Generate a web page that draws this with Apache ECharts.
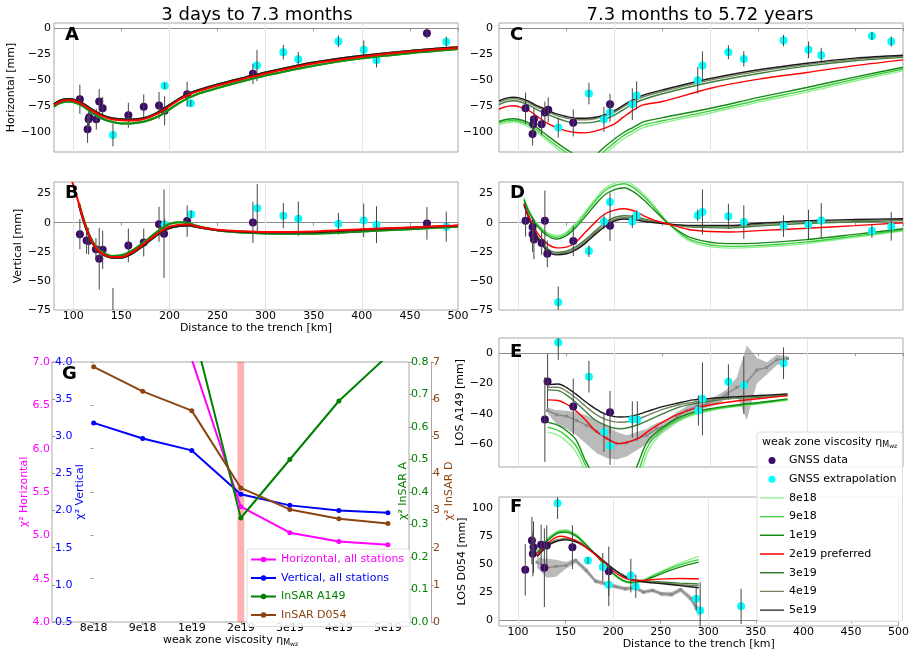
<!DOCTYPE html>
<html><head><meta charset="utf-8">
<script src="https://cdn.jsdelivr.net/npm/echarts@6/dist/echarts.min.js"></script>
<style>html,body{margin:0;padding:0;background:#fff}#c{width:912px;height:653px}</style>
</head><body><div id="c"></div>
<script>
// ---------------- DATA ----------------
const distTicks = [100,150,200,250,300,350,400,450,500];
const distGrid = [100,200,300,400];
const A_yTicks = [-100,-75,-50,-25,0];
const B_yTicks = [-75,-50,-25,0,25];
const E_yTicks = [-60,-40,-20,0];
const F_yTicks = [0,25,50,75,100];

// stations: [distance km, value mm, error mm]
const A_gnss = [[106.9,-68.3,14],[114.9,-97.1,13],[116.0,-87.5,8],[116.7,-85.6,8],[124.0,-87.5,10],[127.0,-70.5,12],[130.6,-77.0,11],[157.3,-83.7,12],[173.3,-75.6,12],[189.2,-74.4,13],[195.0,-79.4,14],[218.4,-63.5,12],[286.8,-43.9,10],[467.7,-4.8,5]];
const A_extra = [[141.3,-102.6,11],[195.1,-55.4,3],[222.2,-72.1,3],[291.0,-35.9,15],[318.4,-23.1,7],[334.0,-29.8,7],[375.7,-12.5,5.5],[402.0,-20.8,9],[415.3,-30.8,7],[487.8,-13.1,5]];
const B_gnss = [[106.9,-9.8,13],[113.9,-15.2,11.5],[116.0,-15.8,11.5],[123.6,-22.7,9.5],[127.0,-31.0,26.5],[130.6,-23.3,16.5],[157.3,-19.5,14.5],[173.3,-17.0,12],[189.2,-1.4,15],[194.4,-9.5,38],[218.4,1.4,13.5],[286.8,0.3,17.7],[467.7,-0.6,14]];
const B_extra = [[141.3,-80,24],[195.1,-1.7,5],[222.6,7.2,3.5],[291.3,12.4,21],[318.4,6.0,10.8],[334.0,3.4,14.8],[375.7,-0.9,9.3],[402.0,2.0,14.4],[415.3,-1.7,15.8],[487.8,-3.4,12.9]];
const C_gnss = [[107.6,-76.9,15],[116.3,-87.5,11],[115.6,-92.3,8],[114.9,-101.6,11],[124.3,-92.3,10.5],[127.7,-81.1,10.5],[131.2,-78.5,12],[157.2,-91.0,13],[195.4,-73.1,10]];
const C_extra = [[141.6,-95.5,9.6],[173.5,-62.8,10.4],[189.1,-87.5,12],[195.4,-81.1,8.8],[218.6,-73.1,15.2],[223.1,-64.7,13.6],[286.6,-50.0,12.8],[291.5,-35.9,13.6],[318.5,-23.1,6.7],[334.5,-29.5,7.4],[375.8,-11.9,5.6],[401.8,-20.8,8],[415.0,-26.0,7.2],[467.7,-7.4,4],[487.8,-12.8,4.8]];
const D_gnss = [[107.6,1.7,13.5],[114.9,-3.7,7],[114.9,-10.0,15],[116.3,-14.4,17],[124.3,-17.5,10],[127.7,1.7,26],[130.2,-26.7,11.5],[157.2,-15.8,13],[195.4,-2.6,13]];
const D_extra = [[141.6,-68.4,13.6],[173.5,-24.4,5],[189.1,1.1,6.5],[195.4,17.8,8],[218.6,1.1,5.7],[223.1,6.3,4.3],[286.6,6.3,5],[291.5,9.2,19.4],[318.5,5.5,10.8],[334.5,0.6,14.4],[375.8,-2.9,9.3],[401.8,-1.7,12.9],[415.0,2.0,15],[467.7,-7.2,5.7],[487.8,-3.2,12.2]];
const E_gnss = [[127.7,-43.7,28],[130.5,-18.6,18],[157.2,-35.2,18.5],[195.4,-38.9,14]];
const E_extra = [[141.6,7.0,11.5],[173.5,-15.5,10.4],[189.1,-52.0,13],[195.4,-61.1,12.5],[218.6,-43.7,12],[223.8,-43.7,12],[287.3,-37.8,10],[291.5,-30.1,24],[318.5,-18.8,11.5],[334.5,-21.0,19],[375.8,-6.6,10.4]];
const F_gnss = [[107.6,45.1,23],[114.6,71.2,21],[115.6,59.3,20],[116.3,65.3,23],[124.3,67.4,18],[127.7,46.9,35],[130.2,66.8,18],[157.2,65.3,19.5],[195.4,43.9,22]];
const F_extra = [[141.6,104.5,14],[173.5,53.4,3],[189.1,47.5,12.6],[195.4,31.8,19],[218.6,40.0,15],[223.8,30.3,10.4],[287.3,19.3,10.4],[291.5,8.9,25],[334.5,12.5,15.6]];

// model curves
const AX = [80,85,90,95,100,110,120,130,140,150,160,170,180,190,200,210,220,230,250,280,300,350,400,450,500];
const A_hi  = [-73,-70,-68.5,-68,-68.5,-72.5,-78.5,-83.5,-86.5,-87.5,-87.8,-87,-84.5,-80,-74,-68,-63,-59.5,-54,-47,-42.5,-33,-26.5,-21.8,-18.3];
const A_red = [-74,-71,-69.5,-69,-69.5,-73.5,-79.5,-84.5,-87.5,-88.5,-88.8,-88,-85.5,-81,-75,-69,-64,-60.5,-55,-48,-43.5,-34,-27.5,-22.5,-19];
const A_lo  = [-75.5,-72.5,-71,-70.5,-71,-75,-81.5,-87,-90,-91.5,-91.5,-90.5,-88,-84,-78,-72,-67,-63,-57.5,-50,-45.5,-36,-29,-24,-20];

const BXr = [99,102,106,110,115,120,125,130,140,150,160,170,180,190,200,210,220,230,250,275,300,350,400,450,500];
const B_red = [35,27,16,4,-8,-17,-23,-26.5,-29.5,-29.5,-26,-20.5,-14,-8,-3.5,-1.8,-1.5,-3.5,-6,-7.3,-8,-7.5,-5.7,-4,-2.3];
const BX = [106,110,115,120,125,130,140,150,160,170,180,190,200,210,220,230,250,275,300,350,400,450,500];
const B_hi = [15.5,3.5,-8.5,-17.5,-23.5,-27,-30,-30,-27,-21.5,-15,-9,-4.5,-2.8,-2.3,-4,-6.5,-7.8,-8.5,-8,-6,-4.3,-2.6];
const B_lo = [17,5,-7,-16,-22,-25.5,-28.5,-28,-24.5,-19,-12.5,-6,-1,0.5,-0.5,-3,-6.5,-8.5,-9.3,-9.5,-7.5,-5.5,-3.5];

const CX = [80,85,90,95,100,110,120,130,140,150,160,170,180,190,200,210,220,230,250,300,350,400,450,500];
const C_5e19 = [-69.9,-68,-66.7,-66.3,-66.7,-69.9,-74.7,-78.5,-82.4,-84.9,-86.5,-86.5,-85.6,-83,-79.2,-73.7,-68.3,-64.4,-59.3,-48.4,-40,-33.7,-28.8,-26];
const C_4e19 = [-71.4,-69.5,-68.2,-67.8,-68.2,-71.4,-76.2,-80,-84,-86.5,-88,-88,-87,-84.5,-80.7,-75.2,-69.8,-65.9,-60.8,-49.9,-41.5,-35,-30,-27];
const C_3e19 = [-73.5,-71.5,-70.2,-69.8,-70.2,-73.5,-78.5,-82.5,-86.5,-89.5,-91,-91,-90,-87.5,-83.5,-78,-72.5,-68.5,-63,-52,-43.5,-36.5,-31.3,-28];
const C_2e19 = [-77.9,-76,-74.9,-74.6,-75.3,-78.5,-85,-91.3,-95.5,-98.7,-100.3,-100.6,-99,-96,-92,-85,-78.5,-73.7,-70.5,-57.7,-49,-42.6,-36,-30.4];
const C_1e19 = [-89.7,-88.2,-87.3,-87,-87.5,-90.5,-96,-103,-110,-116.5,-122,-126,-122,-114,-106.5,-100,-95,-90,-86,-77,-66.5,-57,-47,-37.5];
const C_9e18 = [-91.3,-89.8,-89,-88.7,-89.2,-92.5,-98.5,-106,-113,-119.5,-125,-129,-126,-118,-110,-103,-98,-93,-89,-79.5,-69,-59.5,-49,-39.2];
const C_8e18 = [-93,-91.5,-90.6,-90.3,-90.8,-94.5,-100.5,-108,-115.5,-122,-127,-131,-129,-121,-113,-106,-100.5,-95.5,-91,-81.5,-71,-61.5,-50.8,-41];

const DX = [106,110,115,120,130,140,150,160,170,180,190,200,210,220,230,240,257,280,320,350,400,450,500];
const D_5e19 = [15,6,-4,-13,-24,-27.6,-26.7,-23.3,-17.5,-10,-3.5,1.5,3.2,2.7,1.3,0.2,-1.2,-2.3,-2.3,-0.5,1.8,2.8,3.4];
const D_4e19 = [16,7,-3.5,-12.5,-23,-26.5,-25.5,-22,-16,-8.5,-2,2.8,4.5,4,2.5,1,-1.2,-3,-3.3,-1.5,0.8,1.8,2.6];
const D_3e19 = [17,8,-2.5,-11.5,-22,-25.5,-24.5,-20.5,-14.5,-7,0,4.5,6,5.5,3.5,1.5,-1.2,-3.8,-4.5,-2.8,-0.5,0.8,1.8];
const D_2e19 = [16.4,7,-1,-9,-18,-21.6,-21,-16.5,-8,0.5,7.5,10.8,12,10.3,6.2,2.5,-1.3,-6.3,-8,-6.8,-4.8,-2.5,0];
const D_1e19 = [19.5,11,3,-3,-11,-14,-11,-4,5.5,15.5,24,28.5,30,26.5,20,12,-1.3,-13,-18,-17.5,-14.5,-10,-5.2];
const D_9e18 = [20.5,12,4,-2,-9.5,-12.5,-9.5,-2,8,18.5,27.5,32,33.5,30,23,14.5,-1.3,-15,-20.3,-19.7,-16.5,-11.5,-6.2];
const D_8e18 = [21.5,13,5,-1,-8.5,-11,-8,0,10,20.5,29.5,34,36,32,25,16,-1.3,-16.5,-21.8,-21,-17.8,-12.5,-7.2];

const EX = [130.5,141.6,150,160,170,180,190,200,206,215,225,235,250,265,282,300,317,350,380];
const E_5e19 = [-20.7,-20.3,-22.5,-27,-32,-36.5,-40,-41.8,-42.1,-41.8,-40.3,-38.2,-35.2,-33,-30.8,-29.8,-29,-27.9,-26.9];
const E_4e19 = [-22.5,-22.5,-25,-29.5,-35,-40,-43.5,-45.3,-45.5,-45,-43.3,-40.8,-37,-34.3,-32.3,-30.8,-30,-28.5,-27.5];
const E_3e19 = [-24.2,-24.7,-27.5,-32.5,-38.5,-44,-47.3,-49.5,-49.8,-49,-47,-44.3,-40,-36,-33.4,-31.5,-30.1,-29,-28];
const E_2e19 = [-30.8,-31.2,-33.5,-38,-44,-51,-55.5,-59,-59.6,-58.3,-56,-51.5,-45.5,-40.5,-36.7,-34,-32.3,-30,-28];
const E_1e19 = [-45.4,-47.6,-51,-57,-71,-82,-90,-95,-95,-88,-72,-57.5,-49,-43,-38.9,-36.5,-34.9,-32.5,-30.1];
const E_9e18 = [-48.7,-50.9,-54.5,-61,-74,-86,-95,-100,-100,-94,-78,-61,-50.5,-44.5,-40,-37.3,-35.5,-33,-30.6];
const E_8e18 = [-52,-54.1,-58,-65,-78,-90,-100,-105,-105,-99,-84,-64.5,-52,-45.5,-40.6,-37.8,-36,-33.5,-31];

const FX = [120,125,130,135,140,145,150,160,170,180,190,200,210,220,230,240,255,270,290];
const F_5e19 = [57,61.5,65.5,68.5,70.3,71.3,71.8,70.3,66,60,53,46,40,36.3,34.5,33.6,32.4,31,29.1];
const F_4e19 = [57.5,62,66,69,71,72,72.5,71,66.5,60,53,46,40.5,36.5,35,34.2,33,32,30.8];
const F_3e19 = [58,62.5,66.5,69.5,71.5,72.5,73,71.5,67,60.2,53,46,40.5,36.8,35.5,34.8,34,33.2,32.5];
const F_2e19 = [57.9,63,67.5,71.5,74,75,74.5,71.5,66,59.5,52,44,38.5,35.8,35.5,36.2,37,37.3,37.1];
const F_1e19 = [59.9,65,70,74,77,78.3,78.6,75.5,68.5,60,51,42,36,34,35,38,43,47.5,51.9];
const F_9e18 = [60.5,65.8,71,75,78,79.5,79.8,76.5,69,60,50.5,41.5,35.5,33.5,35,39,44.5,49.5,54.2];
const F_8e18 = [61,66.5,71.8,76,79,80.5,80.6,77.3,69.5,60,50,41,35,33,35,39.5,45.5,51,57];

// InSAR observed profiles with uncertainty envelope
const E_obsX  = [130.5,139.9,150.3,160.7,171.1,181.5,191.9,202.3,212.7,223.1,233.5,243.9,254.4,264.8,275.2,285.6,296,306.4,316.8,327.2,337.6,348,358.4,368.8,379.9];
const E_obs   = [-37.8,-40.6,-41.5,-44.3,-47.6,-51.5,-55.9,-59.6,-59,-56.8,-54.1,-49.8,-47.6,-42.1,-37.8,-34.9,-33.4,-30.8,-26.9,-22.5,-19.2,-11.1,-9.4,-4.4,-3.5];
const E_obsLo = [-39.5,-47,-50,-54,-60,-66,-69,-70,-68,-64,-60,-55,-51,-46,-41,-37,-36,-34,-30,-28,-44,-20,-14,-8,-5];
const E_obsHi = [-36,-37.5,-38,-39,-41,-44,-48,-52,-54,-52,-50,-46,-44,-39,-35,-32,-30.5,-28,-24,-16,5,-3,-6,-1,-2];
const F_obsX  = [120,130.2,139.9,150.3,160.7,171.8,181.5,191.9,202.3,212.7,223.1,231.8,241.5,250.9,261.3,271,282,290];
const F_obs   = [51.9,46.9,48.1,49,53.4,44.5,35,32.6,30.3,28.2,29.1,25.2,26.7,23.7,23.1,27.3,19.3,7.4];
const F_obsLo = [47,38,39,46,51,42,33,30.6,28.5,26.5,27.4,23.5,25,21.8,21,25.3,16.5,3];
const F_obsHi = [56,55,54,52,55.5,47,37,34.6,32.1,30,30.8,27,28.4,25.6,25.2,29.3,22,12];

// panel G (misfit vs viscosity); values for 8e18/9e18 of the first two curves lie off-scale
const viscLabels = ['8e18','9e18','1e19','2e19','3e19','4e19','5e19'];
const chiHoriz = [9.6,8.4,7.03,5.33,5.03,4.93,4.89];
const chiVert  = [3.18,2.97,2.81,2.22,2.07,2.0,1.97];
const chiA149  = [1.25,1.08,0.92,0.32,0.50,0.68,0.82];
const chiD054  = [6.87,6.21,5.69,3.61,3.03,2.78,2.65];
const preferredBand = [2.93,3.07];

// ---------------- CHART ----------------
const FONT = 'DejaVu Sans';
const PURPLE = '#3d0a6b', CYAN = '#00ffff';
const minus = v => (v < 0 ? '\u2212' : '') + Math.abs(v);
const pairs = (xs, ys) => xs.map((x, i) => [x, ys[i]]);
const viscOrder = ['8e18','9e18','1e19','3e19','4e19','5e19','2e19 preferred'];
const viscColor = {'8e18':'#90ee90','9e18':'#3ccf3c','1e19':'#138a13','2e19 preferred':'#ff0000','3e19':'#3d7d3d','4e19':'#76855e','5e19':'#1a1a1a'};
const LINE_ICON = 'path://M0,0H24V0H0Z M0,2.8H24V4.2H0Z M0,7H24V7H0Z';

const panels = [
  {gi:0, rect:{left:54,top:23,width:404,height:129}, yr:[-119,5], yt:A_yTicks, showX:false, yName:'Horizontal [mm]', yGap:33, lw:2, top:false,
   models:{'8e18':[AX,A_lo],'9e18':[AX,A_lo],'1e19':[AX,A_lo],'3e19':[AX,A_hi],'4e19':[AX,A_hi],'5e19':[AX,A_hi],'2e19 preferred':[AX,A_red]}, gnss:A_gnss, extra:A_extra},
  {gi:1, rect:{left:54,top:182,width:404,height:128}, yr:[-75,35], yt:B_yTicks, showX:true, yName:'Vertical [mm]', yGap:26, lw:2, top:false,
   models:{'8e18':[BX,B_lo],'9e18':[BX,B_lo],'1e19':[BX,B_lo],'3e19':[BX,B_hi],'4e19':[BX,B_hi],'5e19':[BX,B_hi],'2e19 preferred':[BXr,B_red]}, gnss:B_gnss, extra:B_extra},
  {gi:2, rect:{left:499,top:23,width:404,height:129}, yr:[-119,5], yt:A_yTicks, showX:false, yName:'', lw:1.4, top:true,
   models:{'8e18':[CX,C_8e18],'9e18':[CX,C_9e18],'1e19':[CX,C_1e19],'3e19':[CX,C_3e19],'4e19':[CX,C_4e19],'5e19':[CX,C_5e19],'2e19 preferred':[CX,C_2e19]}, gnss:C_gnss, extra:C_extra},
  {gi:3, rect:{left:499,top:182,width:404,height:128}, yr:[-75,35], yt:B_yTicks, showX:false, yName:'', lw:1.4, top:true,
   models:{'8e18':[DX,D_8e18],'9e18':[DX,D_9e18],'1e19':[DX,D_1e19],'3e19':[DX,D_3e19],'4e19':[DX,D_4e19],'5e19':[DX,D_5e19],'2e19 preferred':[DX,D_2e19]}, gnss:D_gnss, extra:D_extra},
  {gi:4, rect:{left:499,top:338,width:404,height:129}, yr:[-75,10], yt:E_yTicks, showX:false, yName:'LOS A149 [mm]', yGap:26, lw:1.4, top:true,
   models:{'8e18':[EX,E_8e18],'9e18':[EX,E_9e18],'1e19':[EX,E_1e19],'3e19':[EX,E_3e19],'4e19':[EX,E_4e19],'5e19':[EX,E_5e19],'2e19 preferred':[EX,E_2e19]}, gnss:E_gnss, extra:E_extra,
   obs:[E_obsX,E_obs,E_obsLo,E_obsHi]},
  {gi:5, rect:{left:499,top:497,width:404,height:129}, yr:[-5,110], yt:F_yTicks, showX:true, yName:'LOS D054 [mm]', yGap:25, lw:1.4, top:true,
   models:{'8e18':[FX,F_8e18],'9e18':[FX,F_9e18],'1e19':[FX,F_1e19],'3e19':[FX,F_3e19],'4e19':[FX,F_4e19],'5e19':[FX,F_5e19],'2e19 preferred':[FX,F_2e19]}, gnss:F_gnss, extra:F_extra,
   obs:[F_obsX,F_obs,F_obsLo,F_obsHi]}
];

const grids = [], xAxes = [], yAxes = [], series = [];
const axText = {fontFamily: FONT, fontSize: 11, color: '#000'};

panels.forEach(p => {
  grids.push(Object.assign({show:true, borderColor:'#a8a8a8', borderWidth:1, backgroundColor:'transparent'}, p.rect));
  xAxes.push({type:'value', gridIndex:p.gi, min:80, max:500, splitLine:{show:false}, axisLine:{show:false},
    axisTick:{show:true, customValues:distTicks, length:3, lineStyle:{color:'#999'}},
    axisLabel:Object.assign({show:p.showX, customValues:distTicks, margin:1}, axText),
    name:p.showX ? 'Distance to the trench [km]' : '', nameLocation:'middle', nameGap:11, nameTextStyle:axText});
  yAxes.push({type:'value', gridIndex:p.gi, min:p.yr[0], max:p.yr[1], splitLine:{show:false}, axisLine:{show:false},
    axisTick:{show:false}, axisLabel:Object.assign({customValues:p.yt, formatter:minus, margin:p.gi < 2 ? 3 : 6}, axText),
    name:p.yName, nameLocation:'middle', nameGap:p.yGap || 25, nameRotate:90, nameTextStyle:axText});

  const lz = p.top ? 3 : 5, sz = p.top ? 4 : 2, ez = p.top ? 5 : 3;
  if (p.obs) {
    const [ox, ov, olo, ohi] = p.obs;
    series.push({type:'custom', xAxisIndex:p.gi, yAxisIndex:p.gi, clip:true, silent:true, z:1,
      data: pairs(ox, ov), encode:{x:0, y:1},
      renderItem:(params, api) => {
        if (params.dataIndex !== 0) return null;
        const pts = [];
        for (let i = 0; i < ox.length; i++) pts.push(api.coord([ox[i], ohi[i]]));
        for (let i = ox.length - 1; i >= 0; i--) pts.push(api.coord([ox[i], olo[i]]));
        return {type:'polygon', shape:{points:pts}, style:{fill:'rgba(140,140,140,0.6)'}};
      }});
    series.push({type:'line', xAxisIndex:p.gi, yAxisIndex:p.gi, data:pairs(ox, ov), symbol:'rect', symbolSize:3,
      lineStyle:{color:'#8a8a8a', width:1.5}, itemStyle:{color:'#8a8a8a'}, z:2, silent:true, clip:true});
  }
  viscOrder.forEach(n => {
    const m = p.models[n];
    series.push({type:'line', name:n, xAxisIndex:p.gi, yAxisIndex:p.gi, data:pairs(m[0], m[1]), symbol:'none',
      smooth:0.3, clip:true, silent:true, z:lz, lineStyle:{color:viscColor[n], width:p.lw}, itemStyle:{color:viscColor[n]}});
  });
  const ml = [{yAxis:0, lineStyle:{color:'#8c8c8c', width:1, type:'solid'}}]
    .concat(distGrid.map(v => ({xAxis:v, lineStyle:{color:'#e4e4e4', width:1, type:'solid'}})));
  series.push({type:'scatter', name:'GNSS data', xAxisIndex:p.gi, yAxisIndex:p.gi, data:p.gnss.map(d => [d[0], d[1]]),
    symbolSize:8, itemStyle:{color:PURPLE, opacity:1}, z:sz, silent:true, clip:true,
    markLine:{silent:true, z:1, symbol:['none','none'], label:{show:false}, data:ml}});
  series.push({type:'scatter', name:'GNSS extrapolation', xAxisIndex:p.gi, yAxisIndex:p.gi, data:p.extra.map(d => [d[0], d[1]]),
    symbolSize:8, itemStyle:{color:CYAN, opacity:1}, z:sz, silent:true, clip:true});
  series.push({type:'custom', xAxisIndex:p.gi, yAxisIndex:p.gi, clip:true, silent:true, z:ez,
    data:p.gnss.concat(p.extra), encode:{x:0, y:1},
    renderItem:(params, api) => {
      const x = api.value(0), y = api.value(1), e = api.value(2);
      const a = api.coord([x, y - e]), b = api.coord([x, y + e]);
      return {type:'line', shape:{x1:a[0], y1:a[1], x2:b[0], y2:b[1]}, style:{stroke:'#454545', lineWidth:1}};
    }});
});

// ---- panel G ----
grids.push({show:true, borderColor:'#a8a8a8', borderWidth:1, left:52, top:362, width:357, height:260});
const idx = [0,1,2,3,4,5,6];
xAxes.push({type:'value', gridIndex:6, min:-0.85, max:6.43, splitLine:{show:false}, axisLine:{show:false},
  axisTick:{show:true, customValues:idx, length:3, lineStyle:{color:'#999'}},
  axisLabel:Object.assign({customValues:idx, margin:1, formatter:v => viscLabels[v]}, axText),
  name:'{a|weak zone viscosity η}{b|M}{c|wz}', nameLocation:'middle', nameGap:11,
  nameTextStyle:{fontFamily:FONT, rich:{a:{fontFamily:FONT, fontSize:11, lineHeight:14, color:'#000'},
    b:{fontFamily:FONT, fontSize:8, lineHeight:9, verticalAlign:'bottom', color:'#000'},
    c:{fontFamily:FONT, fontSize:6, lineHeight:5, verticalAlign:'bottom', color:'#000'}}}});
const gy = (min, max, interval, color, pos, extra) => Object.assign({type:'value', gridIndex:6, min, max, interval, position:pos,
  splitLine:{show:false}, axisLine:{show:false}, axisTick:{show:true, length:3, lineStyle:{color:'#999'}},
  axisLabel:{fontFamily:FONT, fontSize:11, color, margin:2, formatter:v => (interval < 1 ? v.toFixed(1) : String(v))}}, extra || {});
yAxes.push(gy(4, 7, 0.5, '#ff00ff', 'left'));
yAxes.push(gy(0.5, 4, 0.5, '#0000ff', 'left', {axisTick:{show:true, inside:true, length:3, lineStyle:{color:'#999'}},
  axisLabel:{fontFamily:FONT, fontSize:11, color:'#0000ff', inside:true, margin:3, formatter:v => v.toFixed(1)}}));
yAxes.push(gy(0, 0.8, 0.1, '#008000', 'right'));
yAxes.push(gy(0, 7, 1, '#8b4513', 'right', {offset:22, axisLine:{show:true, lineStyle:{color:'#a8a8a8'}}}));

const gLine = (name, vals, yi, color, extra) => Object.assign({type:'line', name, xAxisIndex:6, yAxisIndex:yi,
  data:vals.map((v, i) => [i, v]), symbol:'circle', symbolSize:5, clip:true, silent:true, z:3,
  lineStyle:{color, width:2}, itemStyle:{color}}, extra || {});
series.push(gLine('Horizontal, all stations', chiHoriz, 6, '#ff00ff', {markArea:{silent:true,
  itemStyle:{color:'rgba(255,0,0,0.3)'}, data:[[{xAxis:preferredBand[0]}, {xAxis:preferredBand[1]}]]}}));
series.push(gLine('Vertical, all stations', chiVert, 7, '#0000ff'));
series.push(gLine('InSAR A149', chiA149, 8, '#008000'));
series.push(gLine('InSAR D054', chiD054, 9, '#8b4513'));

const txt = (text, x, y, o) => ({type:'text', x, y, z:100, silent:true,
  style:Object.assign({text, fontFamily:FONT, fontSize:11, fill:'#000', align:'center', verticalAlign:'middle'}, o || {})});
const letter = (t, x, y) => txt(t, x, y, {fontSize:18, fontWeight:'bold', align:'left'});
const rot = (t, x, y, color) => Object.assign(txt(t, x, y, {fill:color}), {rotation:Math.PI / 2});

const option = {
  animation:false,
  textStyle:{fontFamily:FONT},
  grid:grids, xAxis:xAxes, yAxis:yAxes, series,
  legend:[
    {selectedMode:false, orient:'vertical', left:247, top:549, itemWidth:25, itemHeight:7, itemGap:7.5,
     padding:[5,6,6,3], backgroundColor:'rgba(255,255,255,0.85)', borderColor:'#dcdcdc', borderWidth:1, borderRadius:3,
     textStyle:{fontFamily:FONT, fontSize:11, lineHeight:8},
     data:[{name:'Horizontal, all stations', textStyle:{color:'#ff00ff'}}, {name:'Vertical, all stations', textStyle:{color:'#0000ff'}},
           {name:'InSAR A149', textStyle:{color:'#008000'}}, {name:'InSAR D054', textStyle:{color:'#8b4513'}}]},
    {selectedMode:false, orient:'vertical', left:757, top:432, itemWidth:24, itemHeight:7, itemGap:7.7,
     padding:[23,6,6,3], backgroundColor:'rgba(255,255,255,0.85)', borderColor:'#dcdcdc', borderWidth:1, borderRadius:3,
     textStyle:{fontFamily:FONT, fontSize:11, lineHeight:8, color:'#000'},
     data:[{name:'GNSS data', icon:'circle'}, {name:'GNSS extrapolation', icon:'circle'}].concat(
       ['8e18','9e18','1e19','2e19 preferred','3e19','4e19','5e19'].map(n => ({name:n, icon:LINE_ICON})))}
  ],
  graphic:[
    txt('3 days to 7.3 months', 257, 15, {fontSize:18}),
    txt('7.3 months to 5.72 years', 700, 15, {fontSize:18}),
    letter('A', 65, 35), letter('B', 65, 193), letter('C', 510, 35), letter('D', 510, 193),
    letter('E', 510, 352), letter('F', 510, 507), letter('G', 62, 374),
    rot('χ² Horizontal', 24, 492, '#ff00ff'),
    rot('χ² Vertical', 80.5, 492, '#0000ff'),
    rot('χ² InSAR A', 403, 491, '#008000'),
    rot('χ² InSAR D', 449, 491, '#8b4513'),
    {type:'text', x:762, y:442, z:100, silent:true, style:{text:'{a|weak zone viscosity η}{b|M}{c|wz}', align:'left', verticalAlign:'middle',
      rich:{a:{fontFamily:FONT, fontSize:11, lineHeight:14, fill:'#000'}, b:{fontFamily:FONT, fontSize:8, lineHeight:9, verticalAlign:'bottom', fill:'#000'},
            c:{fontFamily:FONT, fontSize:6, lineHeight:5, verticalAlign:'bottom', fill:'#000'}}}}
  ]
};
const chart = echarts.init(document.getElementById('c'));
chart.setOption(option);
</script></body></html>
